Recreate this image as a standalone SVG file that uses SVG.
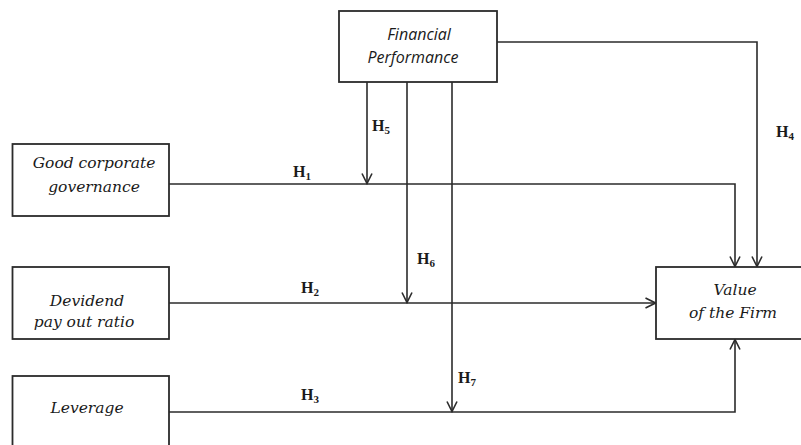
<svg xmlns="http://www.w3.org/2000/svg" width="801" height="445" viewBox="0 0 801 445">
<style>
.box{fill:#fff;stroke:#2b2b2b;stroke-width:1.8}
.lbl{font-family:"DejaVu Serif",serif;font-style:italic;font-size:15.5px;fill:#1a1a1a;text-anchor:middle}
.fp{font-family:"Open Sans","Liberation Sans",sans-serif;font-style:italic;font-size:16px;fill:#1a1a1a;text-anchor:middle}
.h{font-family:"Liberation Serif",serif;font-weight:bold;font-size:16px;fill:#1a1a1a}
.sub{font-size:11px}
.con{fill:none;stroke:#2b2b2b;stroke-width:1.6}
</style>
<defs>
<marker id="arr" viewBox="0 0 12 12" refX="11" refY="6" markerWidth="12" markerHeight="12" markerUnits="userSpaceOnUse" orient="auto">
<path d="M1,1 L11,6 L1,11" fill="none" stroke="#2b2b2b" stroke-width="1.6"/>
</marker>
</defs>
<rect width="801" height="445" fill="#fff"/>
<g id="connectors">
<line class="con" x1="367" y1="82" x2="367" y2="183.5" marker-end="url(#arr)"/>
<line class="con" x1="407" y1="82" x2="407" y2="302.5" marker-end="url(#arr)"/>
<line class="con" x1="452" y1="82" x2="452" y2="411.5" marker-end="url(#arr)"/>
<polyline class="con" points="497,42 757,42 757,266.5" marker-end="url(#arr)"/>
<polyline class="con" points="169,184 735,184 735,266.5" marker-end="url(#arr)"/>
<line class="con" x1="169" y1="303" x2="655.5" y2="303" marker-end="url(#arr)"/>
<polyline class="con" points="169,412 735,412 735,339.5" marker-end="url(#arr)"/>
<text class="h" x="293" y="177">H<tspan class="sub" dy="3">1</tspan></text>
<text class="h" x="301" y="293">H<tspan class="sub" dy="3">2</tspan></text>
<text class="h" x="301" y="400">H<tspan class="sub" dy="3">3</tspan></text>
<text class="h" x="776" y="137">H<tspan class="sub" dy="3">4</tspan></text>
<text class="h" x="372" y="131">H<tspan class="sub" dy="3">5</tspan></text>
<text class="h" x="417" y="264">H<tspan class="sub" dy="3">6</tspan></text>
<text class="h" x="458" y="383">H<tspan class="sub" dy="3">7</tspan></text>
</g>
<g id="financial-performance">
<rect class="box" x="339" y="11" width="158" height="71"/>
<text class="fp" x="419" y="40">Financial</text>
<text class="fp" x="413" y="63">Performance</text>
</g>
<g id="good-corporate-governance">
<rect class="box" x="12.5" y="144" width="156.5" height="72"/>
<text class="lbl" x="94" y="168">Good corporate</text>
<text class="lbl" x="94" y="192">governance</text>
</g>
<g id="dividend-payout-ratio">
<rect class="box" x="12.5" y="267" width="156.5" height="72"/>
<text class="lbl" x="87" y="306">Devidend</text>
<text class="lbl" x="84" y="327">pay out ratio</text>
</g>
<g id="leverage">
<rect class="box" x="12.5" y="376" width="156.5" height="80"/>
<text class="lbl" x="87" y="413">Leverage</text>
</g>
<g id="value-of-the-firm">
<rect class="box" x="656" y="267" width="156" height="72"/>
<text class="lbl" x="735" y="295">Value</text>
<text class="lbl" x="733" y="318">of the Firm</text>
</g>
</svg>
